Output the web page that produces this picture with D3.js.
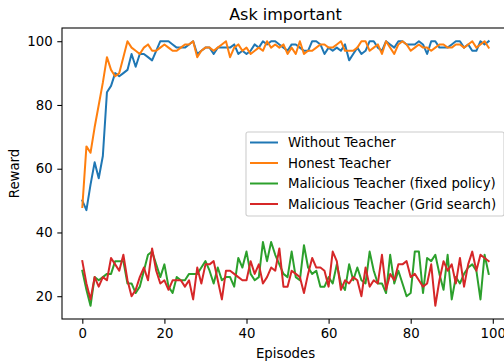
<!DOCTYPE html>
<html>
<head>
<meta charset="utf-8">
<script src="https://cdn.jsdelivr.net/npm/d3@7"></script>
<style>
  body { margin: 0; background: #fff; }
  text { font-family: "DejaVu Sans", sans-serif; fill: #000; }
</style>
</head>
<body>
<svg id="chart" width="504" height="364"></svg>
<script>
'use strict';

const seriesNames = ['Without Teacher', 'Honest Teacher', 'Malicious Teacher (fixed policy)', 'Malicious Teacher (Grid search)'];
const seriesColors = ['#1f77b4', '#ff7f0e', '#2ca02c', '#d62728'];

const withoutTeacher = [50, 47, 55, 62, 57, 64, 84, 86, 90, 89, 90, 91, 96, 92, 96, 96, 95, 94, 97, 100,
    100, 100, 99, 98, 98, 98, 99, 100, 96, 97, 98, 98, 96, 98, 98, 98, 98, 99, 96, 97,
    96, 97, 99, 98, 100, 99, 100, 100, 99, 98, 97, 99, 99, 98, 97, 97, 100, 100, 99, 96,
    98, 97, 98, 97, 99, 94, 96, 98, 96, 97, 100, 100, 98, 97, 100, 99, 98, 100, 100, 99,
    99, 99, 100, 99, 96, 100, 100, 98, 98, 98, 99, 100, 100, 98, 99, 97, 97, 100, 99, 100];
const honestTeacher = [48, 67, 65, 73, 80, 87, 95, 91, 89, 90, 95, 100, 98, 97, 96, 98, 99, 97, 97, 98,
    99, 98, 97, 97, 98, 99, 99, 100, 95, 97, 98, 98, 97, 98, 99, 100, 95, 98, 99, 97,
    98, 96, 97, 98, 97, 100, 98, 99, 98, 99, 96, 98, 96, 100, 96, 97, 97, 98, 99, 99,
    98, 98, 99, 100, 97, 97, 97, 98, 100, 100, 97, 98, 99, 96, 100, 98, 96, 99, 100, 99,
    97, 98, 99, 98, 98, 97, 98, 99, 99, 98, 98, 99, 99, 98, 99, 100, 98, 99, 100, 98];
const fixedPolicy = [28, 22, 17, 26, 25, 26, 27, 27, 31, 31, 31, 24, 24, 21, 23, 28, 33, 34, 30, 26,
    30, 23, 21, 26, 25, 25, 27, 27, 27, 29, 31, 28, 24, 29, 25, 26, 26, 23, 32, 29,
    34, 27, 25, 26, 37, 31, 37, 33, 30, 27, 26, 34, 26, 25, 36, 29, 27, 28, 23, 23,
    26, 24, 30, 24, 22, 30, 25, 29, 25, 24, 34, 28, 24, 24, 21, 33, 24, 28, 24, 20,
    21, 34, 34, 21, 32, 31, 33, 27, 22, 33, 19, 26, 24, 27, 29, 30, 28, 19, 33, 27];
const gridSearch = [31, 24, 19, 26, 23, 26, 25, 32, 30, 28, 33, 25, 20, 22, 26, 29, 25, 35, 28, 24,
    25, 22, 25, 25, 25, 23, 25, 19, 29, 24, 30, 30, 31, 25, 19, 28, 28, 27, 26, 25,
    25, 31, 27, 30, 24, 26, 29, 28, 35, 23, 23, 28, 27, 26, 21, 27, 32, 29, 29, 28,
    23, 34, 31, 22, 25, 24, 26, 25, 20, 29, 23, 25, 24, 33, 22, 27, 25, 30, 30, 31,
    26, 27, 25, 23, 24, 30, 17, 25, 31, 28, 30, 24, 32, 23, 30, 34, 28, 33, 32, 31];

const xTicks = [0, 20, 40, 60, 80, 100];
const yTicks = [20, 40, 60, 80, 100];

const allSeries = [withoutTeacher, honestTeacher, fixedPolicy, gridSearch];

const svg = d3.select('#chart');
const plotLeft = 62, plotTop = 28, plotRight = 509, plotBottom = 319;
const fontSize = 13.3;

const x = d3.scaleLinear().domain([-4.95, 103.95]).range([plotLeft, plotRight]);
const y = d3.scaleLinear().domain([12.85, 104.15]).range([plotBottom, plotTop]);

// lines
const line = d3.line()
    .x((d, i) => x(i))
    .y((d) => y(d));

svg.append('g')
    .selectAll('path')
    .data(allSeries)
    .enter().append('path')
    .attr('d', line)
    .attr('fill', 'none')
    .attr('stroke', (d, i) => seriesColors[i])
    .attr('stroke-width', 2)
    .attr('stroke-linejoin', 'round')
    .attr('stroke-linecap', 'square');

// axes
const xAxis = svg.append('g')
    .attr('transform', `translate(0,${plotBottom})`)
    .call(d3.axisBottom(x).tickValues(xTicks).tickSize(4.7).tickPadding(4.7));
const yAxis = svg.append('g')
    .attr('transform', `translate(${plotLeft},0)`)
    .call(d3.axisLeft(y).tickValues(yTicks).tickSize(4.7).tickPadding(4.7));

[xAxis, yAxis].forEach((ax) => {
    ax.select('.domain').remove();
    ax.selectAll('line').attr('stroke', '#000').attr('stroke-width', 1.07);
    ax.selectAll('text').style('font-size', fontSize + 'px').style('font-family', '"DejaVu Sans", sans-serif');
});

// frame
svg.append('rect')
    .attr('x', plotLeft)
    .attr('y', plotTop)
    .attr('width', plotRight - plotLeft)
    .attr('height', plotBottom - plotTop)
    .attr('fill', 'none')
    .attr('stroke', '#000')
    .attr('stroke-width', 1.07);

// title and labels
svg.append('text')
    .attr('x', (plotLeft + plotRight) / 2)
    .attr('y', 20)
    .attr('text-anchor', 'middle')
    .style('font-size', '16px')
    .text('Ask important');

svg.append('text')
    .attr('x', (plotLeft + plotRight) / 2)
    .attr('y', 358)
    .attr('text-anchor', 'middle')
    .style('font-size', fontSize + 'px')
    .text('Episodes');

svg.append('text')
    .attr('transform', `translate(19,${(plotTop + plotBottom) / 2}) rotate(-90)`)
    .attr('text-anchor', 'middle')
    .style('font-size', fontSize + 'px')
    .text('Reward');

// legend
const legend = svg.append('g').attr('transform', 'translate(246,132)');
legend.append('rect')
    .attr('width', 258)
    .attr('height', 84)
    .attr('rx', 2)
    .attr('fill', '#fff')
    .attr('fill-opacity', 0.8)
    .attr('stroke', '#cccccc')
    .attr('stroke-width', 1.07);

const items = legend.selectAll('g.item')
    .data(seriesNames)
    .enter().append('g')
    .attr('class', 'item')
    .attr('transform', (d, i) => `translate(0,${10.5 + i * 20.5})`);

items.append('line')
    .attr('x1', 4).attr('x2', 32)
    .attr('stroke', (d, i) => seriesColors[i])
    .attr('stroke-width', 2);

items.append('text')
    .attr('x', 42)
    .attr('dy', '0.35em')
    .style('font-size', fontSize + 'px')
    .text((d) => d);
</script>
</body>
</html>
